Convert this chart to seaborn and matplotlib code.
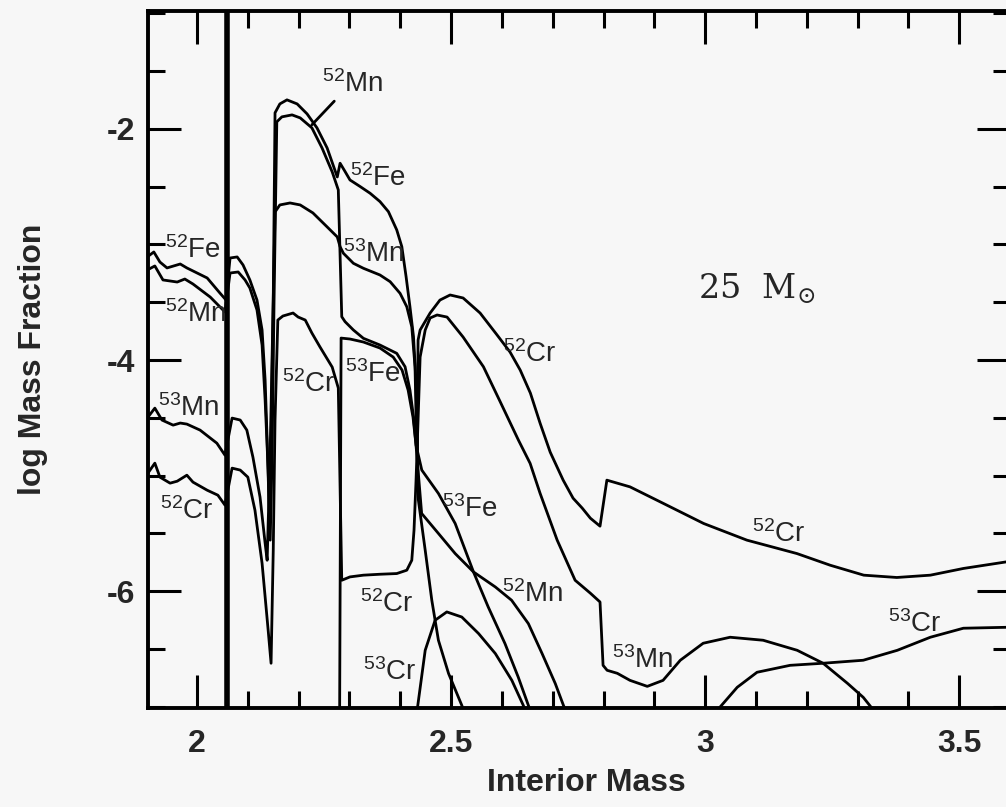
import pandas as pd
import matplotlib.pyplot as plt
import seaborn as sns
from matplotlib.ticker import MultipleLocator

# 25 Msun model: log mass fraction of A=52,53 species vs interior mass

MASS_CUT = 2.059

FE52_X = [1.902, 1.915, 1.927, 1.941, 1.967, 1.980, 2.020, 2.045, 2.057,
          2.065, 2.079, 2.0905, 2.104, 2.118, 2.128, 2.134, 2.138, 2.142,
          2.1457, 2.150, 2.1535, 2.163, 2.177, 2.197, 2.2165, 2.236, 2.256,
          2.276, 2.2815, 2.2913, 2.301, 2.321, 2.3406, 2.360, 2.3766, 2.393,
          2.403, 2.4114, 2.419, 2.426, 2.431, 2.433, 2.4356, 2.449, 2.462,
          2.475, 2.495, 2.521, 2.53]
FE52_Y = [-3.108, -3.065, -3.152, -3.203, -3.169, -3.203, -3.290, -3.420,
          -3.48, -3.117, -3.108, -3.177, -3.307, -3.481, -3.740, -4.173,
          -4.693, -5.299, -4.693, -3.481, -1.861, -1.784, -1.749, -1.784,
          -1.870, -1.991, -2.165, -2.416, -2.297, -2.369, -2.442, -2.499,
          -2.557, -2.629, -2.716, -2.874, -3.019, -3.279, -3.539, -3.798,
          -4.2, -4.70, -5.212, -5.645, -6.078, -6.424, -6.712, -6.987, -7.1]

MN52_X = [1.902, 1.917, 1.933, 1.961, 1.976, 1.992, 2.026, 2.055, 2.065,
          2.081, 2.0945, 2.104, 2.118, 2.128, 2.134, 2.140, 2.144, 2.1476,
          2.1516, 2.157, 2.167, 2.187, 2.203, 2.226, 2.246, 2.266, 2.278,
          2.2848, 2.2913, 2.3077, 2.3274, 2.360, 2.393, 2.4094, 2.419, 2.426,
          2.431, 2.442, 2.475, 2.508, 2.544, 2.587, 2.619, 2.652, 2.679,
          2.705, 2.721, 2.73]
MN52_Y = [-3.221, -3.186, -3.307, -3.325, -3.299, -3.342, -3.455, -3.584,
          -3.247, -3.238, -3.307, -3.377, -3.567, -3.870, -4.346, -4.952,
          -5.558, -4.866, -3.481, -1.939, -1.896, -1.879, -1.905, -1.991,
          -2.165, -2.372, -2.528, -3.625, -3.668, -3.740, -3.812, -3.870,
          -3.942, -4.058, -4.260, -4.49, -4.74, -5.327, -5.500, -5.674,
          -5.833, -5.963, -6.078, -6.280, -6.539, -6.799, -6.987, -7.08]

MN53_X = [1.902, 1.917, 1.931, 1.953, 1.967, 1.980, 2.006, 2.039, 2.055,
          2.069, 2.085, 2.098, 2.110, 2.124, 2.134, 2.138, 2.144, 2.150,
          2.1535, 2.163, 2.183, 2.203, 2.228, 2.256, 2.276, 2.2815, 2.288,
          2.3077, 2.3274, 2.360, 2.380, 2.3996, 2.4128, 2.4226, 2.429, 2.431,
          2.433, 2.439, 2.449, 2.4587, 2.4724, 2.492, 2.5236, 2.5636, 2.595,
          2.6325, 2.6555, 2.675, 2.7087, 2.744, 2.774, 2.793, 2.799, 2.807,
          2.827, 2.852, 2.886, 2.917, 2.951, 2.996, 3.049, 3.114, 3.181,
          3.232, 3.280, 3.311, 3.335]
MN53_Y = [-4.502, -4.416, -4.519, -4.563, -4.545, -4.554, -4.606, -4.719,
          -4.823, -4.502, -4.519, -4.606, -4.840, -5.186, -5.584, -5.732,
          -4.779, -3.48, -2.719, -2.658, -2.641, -2.658, -2.727, -2.848,
          -2.935, -3.019, -3.076, -3.163, -3.206, -3.264, -3.322, -3.423,
          -3.539, -3.712, -4.058, -4.49, -4.78, -3.974, -3.740, -3.636,
          -3.610, -3.628, -3.801, -4.058, -4.346, -4.693, -4.894, -5.152,
          -5.558, -5.905, -6.017, -6.093, -6.641, -6.684, -6.710, -6.771,
          -6.823, -6.771, -6.597, -6.450, -6.398, -6.424, -6.511, -6.623,
          -6.797, -6.918, -7.05]

CR52_X = [1.902, 1.917, 1.927, 1.947, 1.961, 1.980, 1.992, 2.020, 2.041,
          2.055, 2.069, 2.085, 2.100, 2.114, 2.128, 2.140, 2.1457, 2.150,
          2.1535, 2.159, 2.169, 2.189, 2.199, 2.213, 2.226, 2.242, 2.266,
          2.278, 2.2848, 2.301, 2.3274, 2.360, 2.393, 2.4128, 2.4226, 2.427,
          2.431, 2.433, 2.435, 2.439, 2.4587, 2.478, 2.498, 2.5236, 2.557,
          2.5906, 2.616, 2.636, 2.656, 2.675, 2.695, 2.7205, 2.740, 2.758,
          2.774, 2.793, 2.8065, 2.852, 2.918, 2.997, 3.082, 3.1805, 3.246,
          3.312, 3.377, 3.443, 3.508, 3.5925, 3.61]
CR52_Y = [-4.987, -4.892, -5.013, -5.065, -5.048, -4.996, -5.056, -5.126,
          -5.169, -5.255, -4.935, -4.952, -5.013, -5.299, -5.758, -6.338,
          -6.623, -5.645, -4.52, -3.654, -3.619, -3.593, -3.628, -3.654,
          -3.766, -3.887, -4.061, -4.242, -5.905, -5.876, -5.861, -5.853,
          -5.847, -5.818, -5.732, -5.472, -5.039, -4.78, -3.827, -3.740,
          -3.593, -3.481, -3.437, -3.463, -3.593, -3.784, -3.931, -4.087,
          -4.286, -4.545, -4.797, -5.039, -5.195, -5.281, -5.368, -5.437,
          -5.039, -5.097, -5.241, -5.414, -5.558, -5.674, -5.775, -5.861,
          -5.881, -5.861, -5.803, -5.746, -5.735]

FE53_X = [2.2805, 2.2835, 2.301, 2.3274, 2.360, 2.386, 2.4035, 2.4154,
          2.425, 2.431, 2.4423, 2.475, 2.508, 2.544, 2.573, 2.606, 2.632,
          2.652, 2.66]
FE53_Y = [-7.2, -3.81, -3.818, -3.844, -3.896, -3.974, -4.087, -4.260,
          -4.494, -4.736, -4.952, -5.154, -5.414, -5.833, -6.136, -6.453,
          -6.742, -6.987, -7.08]

CR53_INNER_X = [2.4325, 2.449, 2.4685, 2.4915, 2.521, 2.554, 2.587, 2.6195,
                2.642, 2.65]
CR53_INNER_Y = [-7.05, -6.511, -6.251, -6.179, -6.223, -6.366, -6.539,
                -6.771, -6.987, -7.08]
CR53_OUTER_X = [3.0197, 3.063, 3.102, 3.167, 3.232, 3.311, 3.378, 3.443,
                3.508, 3.5925, 3.61]
CR53_OUTER_Y = [-7.05, -6.831, -6.701, -6.641, -6.623, -6.597, -6.511,
                -6.398, -6.320, -6.312, -6.31]

SERIES = [
    ('52Fe', FE52_X, FE52_Y),
    ('52Mn', MN52_X, MN52_Y),
    ('53Mn', MN53_X, MN53_Y),
    ('52Cr', CR52_X, CR52_Y),
    ('53Fe', FE53_X, FE53_Y),
    ('53Cr a', CR53_INNER_X, CR53_INNER_Y),
    ('53Cr b', CR53_OUTER_X, CR53_OUTER_Y),
]

# curve labels: text, x, y (left / baseline)
LABELS = [
    (r'$^{52}$Fe', 1.937, -3.117),
    (r'$^{52}$Mn', 1.937, -3.671),
    (r'$^{53}$Mn', 1.923, -4.485),
    (r'$^{52}$Cr', 1.927, -5.377),
    (r'$^{52}$Fe', 2.301, -2.494),
    (r'$^{53}$Mn', 2.287, -3.152),
    (r'$^{52}$Cr', 2.167, -4.277),
    (r'$^{53}$Fe', 2.291, -4.190),
    (r'$^{52}$Cr', 2.602, -4.017),
    (r'$^{53}$Fe', 2.482, -5.359),
    (r'$^{52}$Cr', 2.321, -6.182),
    (r'$^{52}$Mn', 2.600, -6.095),
    (r'$^{53}$Cr', 2.327, -6.771),
    (r'$^{53}$Mn', 2.817, -6.667),
    (r'$^{52}$Cr', 3.0925, -5.576),
    (r'$^{53}$Cr', 3.360, -6.355),
]
LEADER_TEXT = (r'$^{52}$Mn', 2.246, -1.68)
LEADER_TIP = (2.226, -1.965)


def build_frame():
    parts = [pd.DataFrame({'curve': name, 'mass': xs, 'logx': ys})
             for name, xs, ys in SERIES]
    return pd.concat(parts, ignore_index=True)


def main():
    df = build_frame()
    sns.set_theme(style='ticks')
    plt.rcParams['font.family'] = ['Liberation Sans', 'DejaVu Sans']
    plt.rcParams['mathtext.default'] = 'regular'
    plt.rcParams['axes.unicode_minus'] = False

    bg = '#f7f7f7'
    fig = plt.figure(figsize=(10.06, 8.07), dpi=100, facecolor=bg)
    ax = fig.add_axes([0.1471, 0.1227, 0.857, 0.8637], facecolor=bg)

    sns.lineplot(data=df, x='mass', y='logx', units='curve', estimator=None,
                 sort=False, color='black', lw=2.0, legend=False, ax=ax)
    ax.axvline(MASS_CUT, color='black', lw=4)

    for txt, x, y in LABELS:
        ax.text(x, y, txt, fontsize=20, ha='left', va='baseline')
    txt, x, y = LEADER_TEXT
    ax.annotate(txt, xy=LEADER_TIP, xytext=(x, y), fontsize=20,
                ha='left', va='baseline',
                arrowprops=dict(arrowstyle='-', lw=2.0, color='black',
                                shrinkA=0, shrinkB=0, relpos=(0.25, 0.0)))
    ax.text(2.986, -3.472, r'25  M$_{\odot}$', fontsize=24,
            family='DejaVu Serif', ha='left', va='baseline')

    ax.set_xlim(1.9035, 3.600)
    ax.set_ylim(-7.01, -0.98)
    ax.xaxis.set_major_locator(MultipleLocator(0.5))
    ax.xaxis.set_minor_locator(MultipleLocator(0.1))
    ax.yaxis.set_major_locator(MultipleLocator(2))
    ax.yaxis.set_minor_locator(MultipleLocator(0.5))
    ax.xaxis.set_major_formatter(lambda v, p: f'{v:g}')
    ax.yaxis.set_major_formatter(lambda v, p: f'{v:g}')

    for s in ax.spines.values():
        s.set_linewidth(2.8)
        s.set_color('black')
        s.set_visible(True)
    ax.tick_params(which='both', direction='in', top=True, right=True,
                   color='black', width=2.2)
    ax.tick_params(which='major', length=24)
    ax.tick_params(which='minor', length=12)
    ax.tick_params(axis='x', which='major', labelsize=23, pad=15)
    ax.tick_params(axis='y', which='major', labelsize=23, pad=9)
    for lab in ax.get_xticklabels() + ax.get_yticklabels():
        lab.set_fontweight('bold')

    ax.set_xlabel('Interior Mass', fontsize=23, fontweight='bold')
    ax.set_ylabel('log Mass Fraction', fontsize=23, fontweight='bold')
    ax.xaxis.set_label_coords(0.508, -0.086)
    ax.yaxis.set_label_coords(-0.116, 0.5)

    fig.savefig('out.png', dpi=100, facecolor=bg)


if __name__ == '__main__':
    main()
